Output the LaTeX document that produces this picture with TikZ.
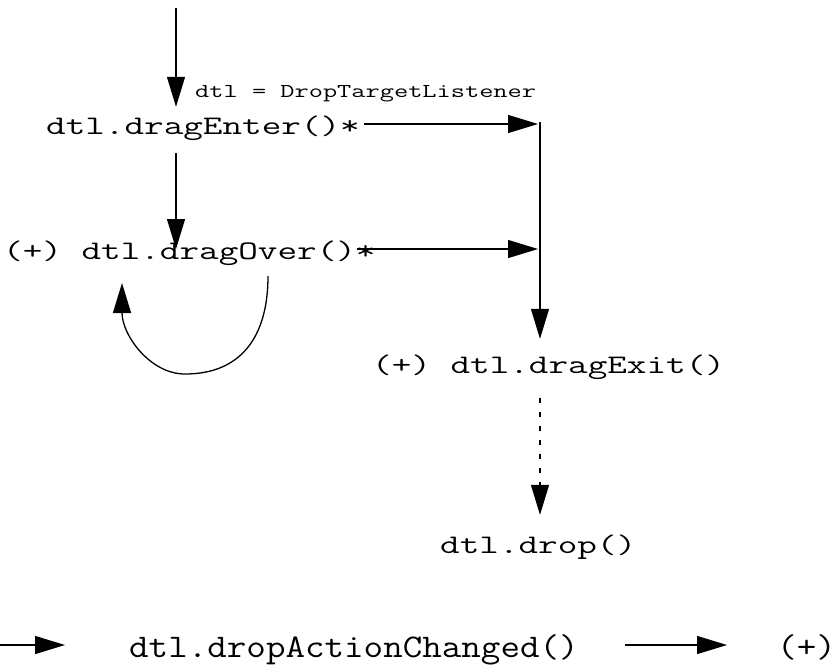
\documentclass[tikz,border=0pt]{standalone}
\usepackage{fontspec}
\usepackage{tikz}
\usetikzlibrary{arrows.meta}
\newfontfamily\callfont[FakeStretch=1.42]{Latin Modern Mono}
\newfontfamily\notefont[FakeStretch=1.40]{Latin Modern Mono}
\newfontfamily\rowfont[FakeStretch=1.15]{Latin Modern Mono}

\begin{document}
\begin{tikzpicture}[x=1pt, y=-1pt,
    call/.style={font=\callfont\fontsize{26.8}{30}\selectfont, inner sep=0pt,
                 text height=20pt, text depth=0pt, anchor=west},
    plaincall/.style={font=\rowfont\fontsize{33}{40}\selectfont, inner sep=0pt,
                 text height=24pt, text depth=0pt, anchor=west},
    note/.style={font=\notefont\fontsize{19.7}{24}\selectfont, inner sep=0pt,
                 text height=15pt, text depth=0pt, anchor=west},
    flow/.style={line width=1.3pt, -{Triangle[length=30pt, width=18pt]}},
    maybe/.style={flow, dash pattern=on 5pt off 9pt}]

\useasboundingbox (0,0) rectangle (838,665);

%% calls
\node[call] (enter) at (46,124)  {dtl.dragEnter()*};
\node[note] (legend) at (195,89.5) {dtl = DropTargetListener};
\node[call] (over)  at (3,249)   {(+) dtl.dragOver()*};
\node[call] (exit)  at (372,363) {(+) dtl.dragExit()};
\node[call] (drop)  at (440,543) {dtl.drop()};
\node[plaincall] (changed) at (129,645) {dtl.dropActionChanged()};
\node[plaincall] (plus)    at (777,645) {(+)};

%% free ends
\coordinate (entry) at (176,8);
\coordinate (rail) at (540,122);
\coordinate (loopout) at (268,276);
\coordinate (loopbot) at (185,374);
\coordinate (loopin) at (122,283);
\coordinate (feed) at (0,645);

%% connectors
\draw[flow, shorten >=7pt] (entry) -- (entry |- enter.north);
\draw[flow, shorten <=19pt] (enter.south -| entry) -- (over.west -| entry);
\draw[flow, shorten >=2pt] ([xshift=4pt]enter.east) -- (enter.east -| rail);
\draw[flow, shorten >=2pt] ([xshift=-19pt]over.east) -- (over.east -| rail);
\draw[line width=1.3pt] (rail) -- (rail |- enter.east);
\draw[flow, shorten >=14pt] (rail) -- (rail |- exit.north);
\draw[maybe, shorten <=25pt, shorten >=18pt] (exit.south -| rail) -- (drop.north -| rail);

%% loop on dragOver
\draw[line width=1.3pt] (loopout) .. controls (268,338) and (240,374) .. (loopbot);
\draw[flow] (loopbot) .. controls (150,374) and (122,335) .. (loopin);

%% bottom row
\draw[flow, shorten >=64pt] (feed) -- (changed.west);
\draw[flow, shorten <=46pt, shorten >=50pt] (changed.east) -- (plus.west);
\end{tikzpicture}
\end{document}
